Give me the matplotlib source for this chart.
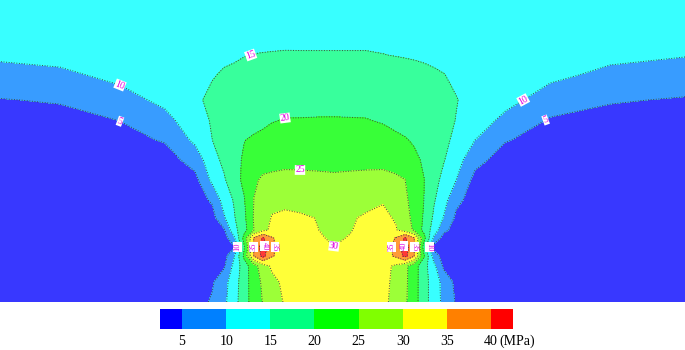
import numpy as np
import matplotlib
matplotlib.use("Agg")
import matplotlib.pyplot as plt
from matplotlib.colors import ListedColormap, BoundaryNorm, to_rgb
import matplotlib.cm as cm

# ---- data (positions in picture pixels, stress in MPa) ----
x_pos = [0, 60, 120, 165, 195, 212, 224, 234, 244, 254, 263, 272, 285, 300, 318,
         334, 350, 366, 383, 396, 405, 414, 424, 434, 444, 456, 475, 505, 550, 610, 685]
y_pos = [0, 35, 55, 75, 100, 120, 140, 160, 180, 200, 218, 230, 238, 247, 256, 266, 282, 302]

stress = [
    [13.5, 13.8, 13.8, 13.8, 13.8, 13.8, 13.8, 13.8, 13.8, 13.8, 13.8, 13.8, 13.8, 13.8, 13.8, 13.9, 13.8, 13.8, 13.8, 13.8, 13.8, 13.8, 13.8, 13.8, 13.8, 13.8, 13.8, 13.8, 13.8, 13.6, 13.5],
    [12.5, 13.0, 13.5, 13.6, 13.8, 13.9, 14.0, 14.0, 14.1, 14.2, 14.3, 14.3, 14.35, 14.3, 14.3, 14.3, 14.3, 14.3, 14.3, 14.2, 14.2, 14.1, 14.1, 14.0, 14.0, 14.0, 13.9, 13.7, 13.5, 13.0, 12.6],
    [10.9, 11.7, 13.0, 13.3, 14.0, 14.3, 14.5, 14.6, 14.9, 15.05, 15.1, 15.15, 15.2, 15.2, 15.2, 15.2, 15.2, 15.2, 15.05, 14.9, 14.8, 14.7, 14.6, 14.5, 14.4, 14.3, 14.0, 13.5, 13.2, 11.3, 10.25],
    [8.2, 8.9, 11.4, 13.0, 14.3, 14.8, 15.3, 15.6, 15.9, 16.1, 16.3, 16.4, 16.6, 16.7, 16.8, 16.8, 16.8, 16.7, 16.5, 16.3, 16.1, 15.9, 15.6, 15.3, 15.05, 14.6, 14.2, 13.0, 11.2, 8.7, 7.75],
    [4.8, 5.4, 7.9, 11.3, 14.5, 15.6, 16.2, 16.7, 17.1, 17.4, 17.7, 17.9, 18.2, 18.4, 18.6, 18.7, 18.7, 18.6, 18.3, 18.0, 17.7, 17.3, 16.8, 16.3, 15.8, 15.1, 14.2, 11.7, 7.5, 5.4, 4.6],
    [3.5, 3.5, 5.1, 8.4, 13.2, 15.35, 16.2, 16.9, 17.6, 18.3, 18.9, 19.7, 20.2, 20.2, 20.25, 20.25, 20.2, 20.15, 19.6, 18.6, 18.0, 17.5, 16.9, 16.3, 15.7, 14.95, 12.9, 8.7, 4.6, 3.5, 3.5],
    [3.0, 3.0, 3.5, 5.4, 11.0, 14.95, 16.8, 18.3, 19.85, 20.7, 21.3, 21.8, 22.0, 22.1, 22.1, 22.1, 22.1, 22.0, 21.6, 21.0, 20.4, 19.4, 18.3, 17.1, 15.9, 14.1, 10.0, 5.3, 3.3, 3.0, 3.0],
    [3.0, 3.0, 3.0, 2.8, 7.0, 13.1, 16.1, 18.4, 20.6, 22.3, 23.5, 23.8, 23.9, 24.0, 24.0, 24.0, 24.0, 24.0, 23.9, 23.6, 22.6, 21.2, 19.3, 17.2, 15.2, 12.1, 6.5, 3.0, 3.0, 3.0, 3.0],
    [3.0, 3.0, 3.0, 3.0, 3.5, 11.0, 14.4, 17.9, 21.1, 24.4, 25.6, 25.8, 26.2, 26.0, 25.8, 25.6, 25.8, 26.0, 26.2, 25.6, 25.05, 22.7, 20.1, 16.7, 13.5, 10.05, 3.6, 3.0, 3.0, 3.0, 3.0],
    [3.0, 3.0, 3.0, 3.0, 3.0, 5.6, 12.0, 15.4, 19.6, 25.1, 27.0, 28.8, 28.8, 28.5, 27.8, 26.9, 27.4, 28.6, 29.7, 27.7, 25.7, 23.6, 19.95, 15.45, 11.7, 6.2, 3.0, 3.0, 3.0, 3.0, 3.0],
    [3.0, 3.0, 3.0, 3.0, 3.0, 3.0, 9.3, 14.5, 18.75, 25.5, 27.9, 30.3, 31.0, 30.6, 29.85, 28.4, 29.5, 30.6, 30.9, 29.6, 26.7, 23.75, 19.4, 14.1, 9.55, 4.1, 3.0, 3.0, 3.0, 3.0, 3.0],
    [2.8, 2.8, 2.8, 2.8, 2.8, 2.8, 4.3, 13.3, 18.1, 25.05, 28.75, 31.0, 31.5, 31.3, 30.05, 28.9, 29.8, 31.0, 31.2, 30.3, 27.7, 24.4, 18.6, 12.7, 6.25, 3.0, 2.8, 2.8, 2.8, 2.8, 2.8],
    [2.8, 2.8, 2.8, 2.8, 2.5, 2.5, 2.8, 9.0, 21.7, 35.3, 40.5, 35.4, 32.5, 31.8, 30.4, 29.5, 30.2, 31.3, 32.0, 35.3, 40.5, 35.3, 21.7, 9.0, 2.8, 2.5, 2.5, 2.8, 2.8, 2.8, 2.8],
    [2.8, 2.8, 2.8, 2.6, 2.3, 2.0, 2.2, 4.5, 19.2, 35.5, 43.0, 35.6, 33.0, 31.8, 30.8, 30.05, 30.6, 31.6, 33.0, 36.0, 43.0, 35.5, 17.6, 3.0, 2.2, 2.0, 2.3, 2.6, 2.8, 2.8, 2.8],
    [2.8, 2.8, 2.8, 2.6, 2.5, 2.3, 3.0, 9.5, 21.0, 35.3, 41.5, 35.4, 32.8, 31.8, 31.2, 30.8, 31.0, 31.6, 32.8, 35.8, 41.5, 35.3, 20.5, 7.5, 2.8, 2.3, 2.5, 2.6, 2.8, 2.8, 2.8],
    [2.8, 2.8, 2.8, 2.8, 2.8, 2.8, 4.3, 11.25, 17.5, 23.0, 27.8, 30.8, 31.8, 32.2, 32.0, 31.5, 31.6, 32.0, 31.6, 29.1, 26.25, 22.2, 17.0, 11.25, 3.85, 2.8, 2.8, 2.8, 2.8, 2.8, 2.8],
    [3.0, 3.0, 3.0, 3.0, 3.0, 4.33, 8.3, 12.5, 17.8, 22.5, 25.9, 28.75, 31.0, 32.0, 32.3, 32.0, 32.0, 32.2, 31.3, 28.8, 26.1, 22.1, 17.0, 12.5, 8.3, 3.8, 3.0, 3.0, 3.0, 3.0, 3.0],
    [3.0, 3.0, 3.0, 3.0, 3.0, 5.55, 8.9, 13.0, 18.0, 22.1, 25.24, 27.4, 30.5, 31.8, 32.5, 32.5, 32.3, 32.0, 31.2, 28.3, 25.8, 22.0, 17.0, 12.5, 8.67, 4.6, 3.0, 3.0, 3.0, 3.0, 3.0],
]

levels = [5, 10, 15, 20, 25, 30, 35, 40]
tick_labels = ["5", "10", "15", "20", "25", "30", "35", "40"]
unit_label = "(MPa)"
band_colors = ["#0000ff", "#0080ff", "#00ffff", "#00ff80", "#00ff00",
               "#80ff00", "#ffff00", "#ff8000", "#ff0000"]

# contour label anchor points (level -> positions); labels near the
# crack tips are small and the "40" ones sit in the middle of the red patch
label_spots = {
    5: [(127, 122), (547, 119)],
    10: [(120, 86), (527, 93), (238, 246), (428, 246)],
    15: [(253, 57)],
    20: [(283, 118)],
    25: [(295, 171)],
    30: [(331, 247)],
    35: [(252, 246), (276, 246), (390, 246), (415, 246)],
    40: [(264.5, 246), (404, 246)],
}
snap_to_line = {5: True, 10: True, 15: True, 20: True, 25: True, 30: True,
                35: True, 40: False}

# ---- drawing ----
def blend(c, a=0.78):
    r, g, b = to_rgb(c)
    return (r * a + 1 - a, g * a + 1 - a, b * a + 1 - a)

serif = ["Liberation Serif", "DejaVu Serif"]

fig = plt.figure(figsize=(6.85, 3.5), dpi=100)
ax = fig.add_axes([0, 48 / 350, 1, 302 / 350])
ax.set_xlim(0, 685)
ax.set_ylim(302, 0)
ax.set_axis_off()

X, Y = np.meshgrid(np.array(x_pos, float), np.array(y_pos, float))
Z = np.array(stress, float)

fill_levels = [-100] + levels + [100]
ax.contourf(X, Y, Z, levels=fill_levels, colors=[blend(c) for c in band_colors])
cs = ax.contour(X, Y, Z, levels=levels, colors="#3c4c44", linewidths=0.7,
                linestyles="dotted")

# contour labels placed on (or near) the chosen level's line, turned along it
for lev, spots in label_spots.items():
    segs = cs.allsegs[levels.index(lev)]
    segs = [s for s in segs if len(s) > 1]
    for (sx, sy) in spots:
        best = None
        for s in segs:
            d = np.hypot(s[:, 0] - sx, s[:, 1] - sy)
            i = int(np.argmin(d))
            if best is None or d[i] < best[0]:
                best = (d[i], s, i)
        _, s, i = best
        px, py = s[i] if snap_to_line[lev] else (sx, sy)
        j0, j1 = max(i - 2, 0), min(i + 2, len(s) - 1)
        p0 = ax.transData.transform(s[j0])
        p1 = ax.transData.transform(s[j1])
        ang = np.degrees(np.arctan2(p1[1] - p0[1], p1[0] - p0[0]))
        if ang > 90:
            ang -= 180
        if ang < -90:
            ang += 180
        near_tip = 236 <= sy <= 256 and (sx < 290 or sx > 380) and lev != 30
        ax.text(px, py, f"{lev}", rotation=ang, rotation_mode="anchor",
                ha="center", va="center", fontsize=6 if near_tip else 7,
                color="#e000e0", family=serif,
                bbox=dict(boxstyle="square,pad=0.04", fc="white", ec="none"))

# ---- colorbar ----
cmap_bar = ListedColormap(band_colors[1:-1])
cmap_bar.set_under(band_colors[0])
cmap_bar.set_over(band_colors[-1])
norm = BoundaryNorm(levels, cmap_bar.N)
sm = cm.ScalarMappable(norm=norm, cmap=cmap_bar)
cax = fig.add_axes([160 / 685, (350 - 329) / 350, 353 / 685, 20 / 350])
cb = fig.colorbar(sm, cax=cax, orientation="horizontal", extend="both",
                  extendrect=True, extendfrac=0.5 / 7, ticks=levels)
cb.outline.set_visible(False)
cb.ax.set_xticklabels(tick_labels)
cb.ax.tick_params(length=0, labelsize=10, pad=4)
for t in cb.ax.get_xticklabels():
    t.set_fontfamily(serif)
fig.text(499 / 685, (350 - 341) / 350, unit_label, ha="left", va="center",
         fontsize=10, family=serif)

fig.savefig("out.png", dpi=100, facecolor="white")
